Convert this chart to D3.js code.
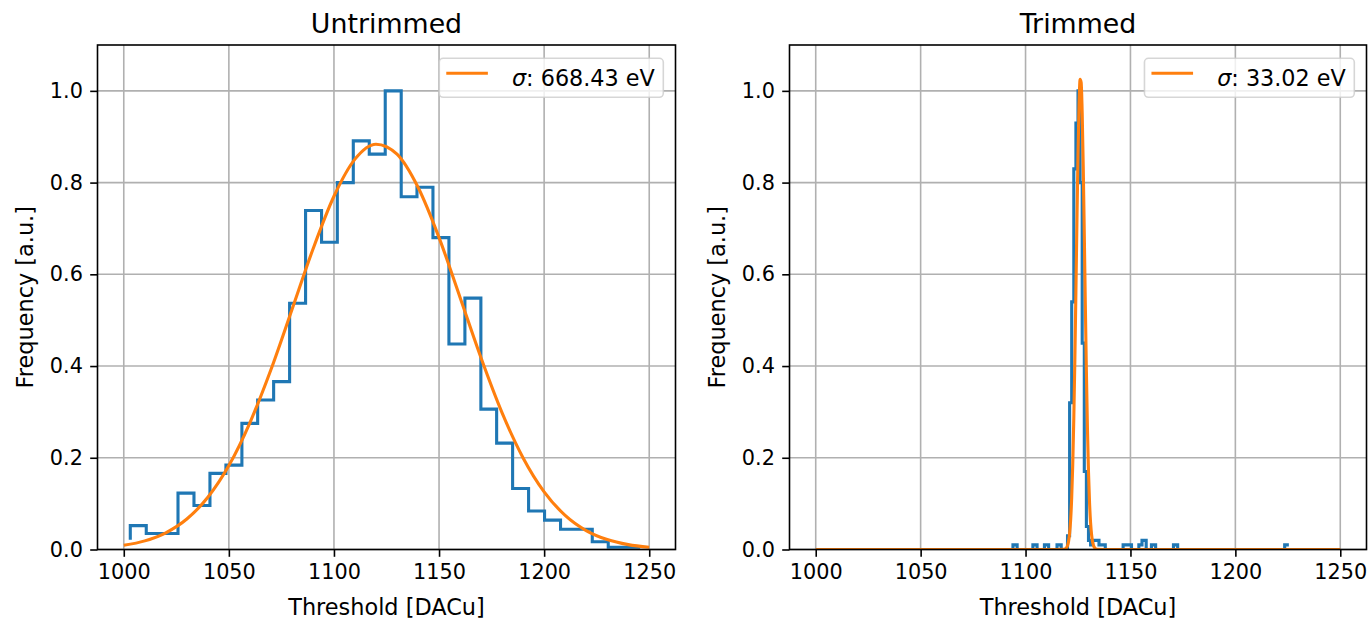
<!DOCTYPE html>
<html>
<head>
<meta charset="utf-8">
<script src="https://cdn.jsdelivr.net/npm/d3@7"></script>
<style>
  html, body { margin: 0; padding: 0; background: #fff; }
  svg { display: block; }
  text { font-family: "DejaVu Sans", sans-serif; fill: #000; }
</style>
</head>
<body>
<svg id="chart" width="1371" height="622"></svg>
<script>
// Shared axis ticks
const xTicks = [1000, 1050, 1100, 1150, 1200, 1250];
const yTicks = [0.0, 0.2, 0.4, 0.6, 0.8, 1.0];
const xDomain = [987.5, 1262.5];
const yDomain = [0, 1.1];

// Untrimmed threshold histogram (step, "pre" style): bin positions and normalised counts
const untrimmedX = [1003.1, 1010.7, 1018.3, 1025.8, 1033.4, 1041.0, 1048.6, 1056.2, 1063.7, 1071.3,
  1078.9, 1086.5, 1094.1, 1101.6, 1109.2, 1116.8, 1124.4, 1132.0, 1139.5, 1147.1,
  1154.7, 1162.3, 1169.9, 1177.4, 1185.0, 1192.6, 1200.2, 1207.8, 1215.3, 1222.9,
  1230.5, 1238.1, 1245.7];
const untrimmedY = [0.021, 0.052, 0.035, 0.035, 0.123, 0.096, 0.166, 0.184, 0.275, 0.326,
  0.366, 0.537, 0.739, 0.670, 0.800, 0.891, 0.862, 1.000, 0.769, 0.790,
  0.680, 0.448, 0.548, 0.306, 0.232, 0.133, 0.084, 0.064, 0.044, 0.044,
  0.017, 0.005, 0.005];

// Gaussian fit for the untrimmed distribution
const untrimmedFitX = [1000, 1010, 1020, 1030, 1040, 1050, 1060, 1070, 1080, 1090, 1100, 1110, 1120,
  1130, 1140, 1150, 1160, 1170, 1180, 1190, 1200, 1210, 1220, 1230, 1240, 1250];
const untrimmedFitY = [0.0091, 0.0188, 0.0365, 0.0665, 0.1138, 0.183, 0.2763, 0.392, 0.5228, 0.6547,
  0.7702, 0.8512, 0.8837, 0.8619, 0.7897, 0.680, 0.5496, 0.4174, 0.2979, 0.1997,
  0.1257, 0.0744, 0.0413, 0.0216, 0.0106, 0.0049];
const untrimmedLabel = "668.43 eV";

// Trimmed threshold histogram (step, "pre" style), runs of equal counts merged
const trimmedX = [1094, 1096, 1103.5, 1105.5, 1109, 1111, 1115, 1117, 1120, 1121,
  1122, 1123, 1124, 1125, 1126, 1127, 1128, 1129, 1130, 1131,
  1132, 1135, 1138, 1146.5, 1150.5, 1154, 1155.5, 1157.5, 1160, 1162,
  1170.5, 1172.5, 1223.5, 1225.5];
const trimmedY = [0, 0.01, 0, 0.01, 0, 0.01, 0, 0.01, 0, 0.03,
  0.32, 0.54, 0.83, 0.93, 1.00, 0.80, 0.45, 0.17, 0.05, 0.02,
  0.01, 0.02, 0.01, 0, 0.01, 0, 0.01, 0.02, 0, 0.01,
  0, 0.01, 0, 0.01];

// Gaussian fit for the trimmed distribution
const trimmedFitX = [1000, 1110, 1118, 1119, 1120, 1120.5, 1121, 1121.5, 1122, 1122.5, 1123, 1123.5,
  1124, 1124.5, 1125, 1125.5, 1126, 1126.5, 1127, 1127.5, 1128, 1128.5, 1129, 1129.5,
  1130, 1130.5, 1131, 1131.5, 1132, 1133, 1134, 1140, 1250];
const trimmedFitY = [0, 0, 0.0002, 0.0016, 0.0084, 0.0177, 0.035, 0.065, 0.114, 0.186, 0.286, 0.414,
  0.562, 0.718, 0.860, 0.969, 1.025, 1.018, 0.951, 0.834, 0.687, 0.532, 0.387, 0.264,
  0.169, 0.102, 0.058, 0.031, 0.0154, 0.0032, 0.0005, 0, 0];
const trimmedLabel = "33.02 eV";

const panels = [
  { title: "Untrimmed", left: 97.5, width: 578, hx: untrimmedX, hy: untrimmedY,
    fx: untrimmedFitX, fy: untrimmedFitY, label: untrimmedLabel },
  { title: "Trimmed", left: 789.5, width: 577, hx: trimmedX, hy: trimmedY,
    fx: trimmedFitX, fy: trimmedFitY, label: trimmedLabel }
];

const TOP = 45, HEIGHT = 504.5;
const TICK_FONT = 20.8, LABEL_FONT = 22.4, LEGEND_FONT = 22.3, TITLE_FONT = 26.8;
const BLUE = "#1f77b4", ORANGE = "#ff7f0e";
const svg = d3.select("#chart");

panels.forEach((p, i) => {
  const x = d3.scaleLinear().domain(xDomain).range([0, p.width]);
  const y = d3.scaleLinear().domain(yDomain).range([HEIGHT, 0]);
  const g = svg.append("g").attr("transform", `translate(${p.left},${TOP})`);

  g.append("clipPath").attr("id", "clip" + i)
    .append("rect").attr("width", p.width).attr("height", HEIGHT);

  // grid
  g.append("g").selectAll("line").data(xTicks).join("line")
    .attr("x1", d => x(d)).attr("x2", d => x(d)).attr("y1", 0).attr("y2", HEIGHT)
    .attr("stroke", "#b0b0b0").attr("stroke-width", 1.6);
  g.append("g").selectAll("line").data(yTicks).join("line")
    .attr("y1", d => y(d)).attr("y2", d => y(d)).attr("x1", 0).attr("x2", p.width)
    .attr("stroke", "#b0b0b0").attr("stroke-width", 1.6);

  const plot = g.append("g").attr("clip-path", `url(#clip${i})`);

  // histogram steps
  const hist = p.hx.map((v, k) => [v, p.hy[k]]);
  plot.append("path").datum(hist)
    .attr("d", d3.line().x(d => x(d[0])).y(d => y(d[1])).curve(d3.curveStepBefore))
    .attr("fill", "none").attr("stroke", BLUE).attr("stroke-width", 3.1)
    .attr("stroke-linejoin", "miter").attr("stroke-linecap", "butt");

  // fitted gaussian
  const fit = p.fx.map((v, k) => [v, p.fy[k]]);
  plot.append("path").datum(fit)
    .attr("d", d3.line().x(d => x(d[0])).y(d => y(d[1])).curve(d3.curveMonotoneX))
    .attr("fill", "none").attr("stroke", ORANGE).attr("stroke-width", 3.1)
    .attr("stroke-linejoin", "round").attr("stroke-linecap", "butt");

  // axes
  const xAxis = g.append("g").attr("transform", `translate(0,${HEIGHT})`)
    .call(d3.axisBottom(x).tickValues(xTicks).tickFormat(d3.format("d"))
      .tickSize(7.3).tickPadding(7.3).tickSizeOuter(0));
  const yAxis = g.append("g")
    .call(d3.axisLeft(y).tickValues(yTicks).tickFormat(d3.format(".1f"))
      .tickSize(7.3).tickPadding(7.3).tickSizeOuter(0));
  [xAxis, yAxis].forEach(a => {
    a.select(".domain").remove();
    a.selectAll(".tick line").attr("stroke", "#000").attr("stroke-width", 1.6);
    a.selectAll(".tick text").attr("font-size", TICK_FONT).attr("font-family", "DejaVu Sans").attr("fill", "#000");
  });

  // frame
  g.append("rect").attr("width", p.width).attr("height", HEIGHT)
    .attr("fill", "none").attr("stroke", "#000").attr("stroke-width", 1.6);

  // labels
  g.append("text").attr("x", p.width / 2).attr("y", -12.5)
    .attr("text-anchor", "middle").attr("font-size", TITLE_FONT).text(p.title);
  g.append("text").attr("x", p.width / 2).attr("y", HEIGHT + 65)
    .attr("text-anchor", "middle").attr("font-size", LABEL_FONT).text("Threshold [DACu]");
  g.append("text").attr("transform", `translate(-65,${HEIGHT / 2}) rotate(-90)`)
    .attr("text-anchor", "middle").attr("font-size", LABEL_FONT).text("Frequency [a.u.]");

  // legend
  const lg = g.append("g");
  const box = lg.append("rect");
  const txt = lg.append("text").attr("font-size", LEGEND_FONT).attr("x", 0).attr("y", 0);
  txt.append("tspan").attr("font-style", "italic").text("σ");
  txt.append("tspan").text(": " + p.label);
  const tw = txt.node().getComputedTextLength();
  const bw = 72.7 + tw + 8.5, bh = 39;
  const bx = p.width - 12.2 - bw, by = 13.3;
  box.attr("x", bx).attr("y", by).attr("width", bw).attr("height", bh)
    .attr("rx", 4).attr("ry", 4)
    .attr("fill", "rgba(255,255,255,0.8)").attr("stroke", "rgba(204,204,204,0.8)").attr("stroke-width", 1.6);
  lg.append("line").attr("x1", bx + 7).attr("x2", bx + 48.6)
    .attr("y1", by + 15).attr("y2", by + 15)
    .attr("stroke", ORANGE).attr("stroke-width", 3.1);
  txt.attr("x", bx + 72.7).attr("y", by + 27.5);
});
</script>
</body>
</html>
